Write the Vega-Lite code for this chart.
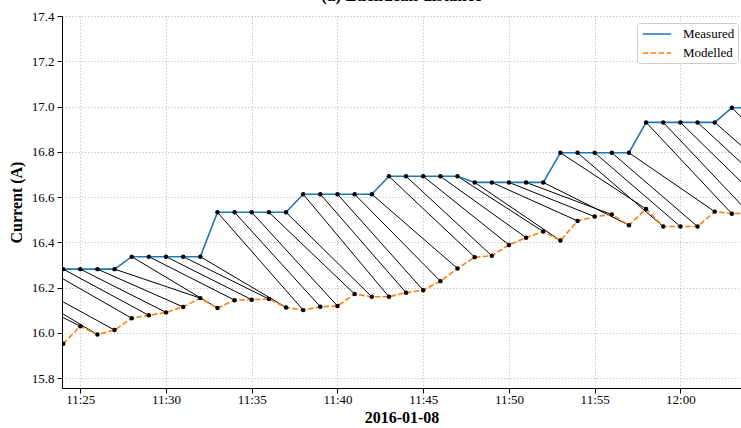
{
  "$schema": "https://vega.github.io/schema/vega-lite/v6.json",
  "width": 679,
  "height": 372,
  "autosize": {"type": "none"},
  "padding": {"left": 62, "top": 16, "right": 0, "bottom": 40},
  "background": "white",
  "title": {"text": "(a) Euclidean distance", "font": "Liberation Serif", "fontWeight": "bold", "fontSize": 17, "anchor": "middle", "baseline": "alphabetic", "offset": 2, "dy": 10, "color": "black"},
  "config": {
    "view": {"stroke": null},
    "axis": {"domainColor": "black", "domainWidth": 1, "tickColor": "black", "tickSize": 5, "tickWidth": 1, "labelFont": "Liberation Serif", "labelFontSize": 13, "labelColor": "black", "titleFont": "Liberation Serif", "titleFontSize": 16, "titleFontWeight": "bold", "titleColor": "black", "gridColor": "#b0b0b0", "gridDash": [1.2, 2], "gridWidth": 0.8}
  },
  "datasets": {
    "series": [
      {"time": "2016-01-08T11:18:00", "series": "Measured", "value": 16.22},
      {"time": "2016-01-08T11:19:00", "series": "Measured", "value": 16.22},
      {"time": "2016-01-08T11:20:00", "series": "Measured", "value": 16.22},
      {"time": "2016-01-08T11:21:00", "series": "Measured", "value": 16.22},
      {"time": "2016-01-08T11:22:00", "series": "Measured", "value": 16.22},
      {"time": "2016-01-08T11:23:00", "series": "Measured", "value": 16.282},
      {"time": "2016-01-08T11:24:00", "series": "Measured", "value": 16.282},
      {"time": "2016-01-08T11:25:00", "series": "Measured", "value": 16.282},
      {"time": "2016-01-08T11:26:00", "series": "Measured", "value": 16.282},
      {"time": "2016-01-08T11:27:00", "series": "Measured", "value": 16.282},
      {"time": "2016-01-08T11:28:00", "series": "Measured", "value": 16.337},
      {"time": "2016-01-08T11:29:00", "series": "Measured", "value": 16.337},
      {"time": "2016-01-08T11:30:00", "series": "Measured", "value": 16.337},
      {"time": "2016-01-08T11:31:00", "series": "Measured", "value": 16.337},
      {"time": "2016-01-08T11:32:00", "series": "Measured", "value": 16.337},
      {"time": "2016-01-08T11:33:00", "series": "Measured", "value": 16.533},
      {"time": "2016-01-08T11:34:00", "series": "Measured", "value": 16.533},
      {"time": "2016-01-08T11:35:00", "series": "Measured", "value": 16.533},
      {"time": "2016-01-08T11:36:00", "series": "Measured", "value": 16.533},
      {"time": "2016-01-08T11:37:00", "series": "Measured", "value": 16.533},
      {"time": "2016-01-08T11:38:00", "series": "Measured", "value": 16.613},
      {"time": "2016-01-08T11:39:00", "series": "Measured", "value": 16.613},
      {"time": "2016-01-08T11:40:00", "series": "Measured", "value": 16.613},
      {"time": "2016-01-08T11:41:00", "series": "Measured", "value": 16.613},
      {"time": "2016-01-08T11:42:00", "series": "Measured", "value": 16.613},
      {"time": "2016-01-08T11:43:00", "series": "Measured", "value": 16.692},
      {"time": "2016-01-08T11:44:00", "series": "Measured", "value": 16.692},
      {"time": "2016-01-08T11:45:00", "series": "Measured", "value": 16.692},
      {"time": "2016-01-08T11:46:00", "series": "Measured", "value": 16.692},
      {"time": "2016-01-08T11:47:00", "series": "Measured", "value": 16.692},
      {"time": "2016-01-08T11:48:00", "series": "Measured", "value": 16.665},
      {"time": "2016-01-08T11:49:00", "series": "Measured", "value": 16.665},
      {"time": "2016-01-08T11:50:00", "series": "Measured", "value": 16.665},
      {"time": "2016-01-08T11:51:00", "series": "Measured", "value": 16.665},
      {"time": "2016-01-08T11:52:00", "series": "Measured", "value": 16.665},
      {"time": "2016-01-08T11:53:00", "series": "Measured", "value": 16.796},
      {"time": "2016-01-08T11:54:00", "series": "Measured", "value": 16.796},
      {"time": "2016-01-08T11:55:00", "series": "Measured", "value": 16.796},
      {"time": "2016-01-08T11:56:00", "series": "Measured", "value": 16.796},
      {"time": "2016-01-08T11:57:00", "series": "Measured", "value": 16.796},
      {"time": "2016-01-08T11:58:00", "series": "Measured", "value": 16.93},
      {"time": "2016-01-08T11:59:00", "series": "Measured", "value": 16.93},
      {"time": "2016-01-08T12:00:00", "series": "Measured", "value": 16.93},
      {"time": "2016-01-08T12:01:00", "series": "Measured", "value": 16.93},
      {"time": "2016-01-08T12:02:00", "series": "Measured", "value": 16.93},
      {"time": "2016-01-08T12:03:00", "series": "Measured", "value": 16.995},
      {"time": "2016-01-08T12:04:00", "series": "Measured", "value": 16.995},
      {"time": "2016-01-08T11:24:00", "series": "Modelled", "value": 15.952},
      {"time": "2016-01-08T11:25:00", "series": "Modelled", "value": 16.03},
      {"time": "2016-01-08T11:26:00", "series": "Modelled", "value": 15.993},
      {"time": "2016-01-08T11:27:00", "series": "Modelled", "value": 16.013},
      {"time": "2016-01-08T11:28:00", "series": "Modelled", "value": 16.065},
      {"time": "2016-01-08T11:29:00", "series": "Modelled", "value": 16.078},
      {"time": "2016-01-08T11:30:00", "series": "Modelled", "value": 16.091},
      {"time": "2016-01-08T11:31:00", "series": "Modelled", "value": 16.115},
      {"time": "2016-01-08T11:32:00", "series": "Modelled", "value": 16.154},
      {"time": "2016-01-08T11:33:00", "series": "Modelled", "value": 16.11},
      {"time": "2016-01-08T11:34:00", "series": "Modelled", "value": 16.145},
      {"time": "2016-01-08T11:35:00", "series": "Modelled", "value": 16.147},
      {"time": "2016-01-08T11:36:00", "series": "Modelled", "value": 16.15},
      {"time": "2016-01-08T11:37:00", "series": "Modelled", "value": 16.113},
      {"time": "2016-01-08T11:38:00", "series": "Modelled", "value": 16.101},
      {"time": "2016-01-08T11:39:00", "series": "Modelled", "value": 16.116},
      {"time": "2016-01-08T11:40:00", "series": "Modelled", "value": 16.119},
      {"time": "2016-01-08T11:41:00", "series": "Modelled", "value": 16.172},
      {"time": "2016-01-08T11:42:00", "series": "Modelled", "value": 16.16},
      {"time": "2016-01-08T11:43:00", "series": "Modelled", "value": 16.16},
      {"time": "2016-01-08T11:44:00", "series": "Modelled", "value": 16.178},
      {"time": "2016-01-08T11:45:00", "series": "Modelled", "value": 16.189},
      {"time": "2016-01-08T11:46:00", "series": "Modelled", "value": 16.229},
      {"time": "2016-01-08T11:47:00", "series": "Modelled", "value": 16.285},
      {"time": "2016-01-08T11:48:00", "series": "Modelled", "value": 16.335},
      {"time": "2016-01-08T11:49:00", "series": "Modelled", "value": 16.341},
      {"time": "2016-01-08T11:50:00", "series": "Modelled", "value": 16.389},
      {"time": "2016-01-08T11:51:00", "series": "Modelled", "value": 16.421},
      {"time": "2016-01-08T11:52:00", "series": "Modelled", "value": 16.448},
      {"time": "2016-01-08T11:53:00", "series": "Modelled", "value": 16.408},
      {"time": "2016-01-08T11:54:00", "series": "Modelled", "value": 16.495},
      {"time": "2016-01-08T11:55:00", "series": "Modelled", "value": 16.514},
      {"time": "2016-01-08T11:56:00", "series": "Modelled", "value": 16.523},
      {"time": "2016-01-08T11:57:00", "series": "Modelled", "value": 16.476},
      {"time": "2016-01-08T11:58:00", "series": "Modelled", "value": 16.548},
      {"time": "2016-01-08T11:59:00", "series": "Modelled", "value": 16.47},
      {"time": "2016-01-08T12:00:00", "series": "Modelled", "value": 16.47},
      {"time": "2016-01-08T12:01:00", "series": "Modelled", "value": 16.47},
      {"time": "2016-01-08T12:02:00", "series": "Modelled", "value": 16.536},
      {"time": "2016-01-08T12:03:00", "series": "Modelled", "value": 16.527},
      {"time": "2016-01-08T12:04:00", "series": "Modelled", "value": 16.53},
      {"time": "2016-01-08T12:05:00", "series": "Modelled", "value": 16.56},
      {"time": "2016-01-08T12:06:00", "series": "Modelled", "value": 16.58},
      {"time": "2016-01-08T12:07:00", "series": "Modelled", "value": 16.6},
      {"time": "2016-01-08T12:08:00", "series": "Modelled", "value": 16.62}
    ],
    "pairs": [
      {"mt": "2016-01-08T11:19:00", "mv": 16.22, "pt": "2016-01-08T11:24:00", "pv": 15.952},
      {"mt": "2016-01-08T11:20:00", "mv": 16.22, "pt": "2016-01-08T11:25:00", "pv": 16.03},
      {"mt": "2016-01-08T11:21:00", "mv": 16.22, "pt": "2016-01-08T11:26:00", "pv": 15.993},
      {"mt": "2016-01-08T11:22:00", "mv": 16.22, "pt": "2016-01-08T11:27:00", "pv": 16.013},
      {"mt": "2016-01-08T11:23:00", "mv": 16.282, "pt": "2016-01-08T11:28:00", "pv": 16.065},
      {"mt": "2016-01-08T11:24:00", "mv": 16.282, "pt": "2016-01-08T11:29:00", "pv": 16.078},
      {"mt": "2016-01-08T11:25:00", "mv": 16.282, "pt": "2016-01-08T11:30:00", "pv": 16.091},
      {"mt": "2016-01-08T11:26:00", "mv": 16.282, "pt": "2016-01-08T11:31:00", "pv": 16.115},
      {"mt": "2016-01-08T11:27:00", "mv": 16.282, "pt": "2016-01-08T11:32:00", "pv": 16.154},
      {"mt": "2016-01-08T11:28:00", "mv": 16.337, "pt": "2016-01-08T11:33:00", "pv": 16.11},
      {"mt": "2016-01-08T11:29:00", "mv": 16.337, "pt": "2016-01-08T11:34:00", "pv": 16.145},
      {"mt": "2016-01-08T11:30:00", "mv": 16.337, "pt": "2016-01-08T11:35:00", "pv": 16.147},
      {"mt": "2016-01-08T11:31:00", "mv": 16.337, "pt": "2016-01-08T11:36:00", "pv": 16.15},
      {"mt": "2016-01-08T11:32:00", "mv": 16.337, "pt": "2016-01-08T11:37:00", "pv": 16.113},
      {"mt": "2016-01-08T11:33:00", "mv": 16.533, "pt": "2016-01-08T11:38:00", "pv": 16.101},
      {"mt": "2016-01-08T11:34:00", "mv": 16.533, "pt": "2016-01-08T11:39:00", "pv": 16.116},
      {"mt": "2016-01-08T11:35:00", "mv": 16.533, "pt": "2016-01-08T11:40:00", "pv": 16.119},
      {"mt": "2016-01-08T11:36:00", "mv": 16.533, "pt": "2016-01-08T11:41:00", "pv": 16.172},
      {"mt": "2016-01-08T11:37:00", "mv": 16.533, "pt": "2016-01-08T11:42:00", "pv": 16.16},
      {"mt": "2016-01-08T11:38:00", "mv": 16.613, "pt": "2016-01-08T11:43:00", "pv": 16.16},
      {"mt": "2016-01-08T11:39:00", "mv": 16.613, "pt": "2016-01-08T11:44:00", "pv": 16.178},
      {"mt": "2016-01-08T11:40:00", "mv": 16.613, "pt": "2016-01-08T11:45:00", "pv": 16.189},
      {"mt": "2016-01-08T11:41:00", "mv": 16.613, "pt": "2016-01-08T11:46:00", "pv": 16.229},
      {"mt": "2016-01-08T11:42:00", "mv": 16.613, "pt": "2016-01-08T11:47:00", "pv": 16.285},
      {"mt": "2016-01-08T11:43:00", "mv": 16.692, "pt": "2016-01-08T11:48:00", "pv": 16.335},
      {"mt": "2016-01-08T11:44:00", "mv": 16.692, "pt": "2016-01-08T11:49:00", "pv": 16.341},
      {"mt": "2016-01-08T11:45:00", "mv": 16.692, "pt": "2016-01-08T11:50:00", "pv": 16.389},
      {"mt": "2016-01-08T11:46:00", "mv": 16.692, "pt": "2016-01-08T11:51:00", "pv": 16.421},
      {"mt": "2016-01-08T11:47:00", "mv": 16.692, "pt": "2016-01-08T11:52:00", "pv": 16.448},
      {"mt": "2016-01-08T11:48:00", "mv": 16.665, "pt": "2016-01-08T11:53:00", "pv": 16.408},
      {"mt": "2016-01-08T11:49:00", "mv": 16.665, "pt": "2016-01-08T11:54:00", "pv": 16.495},
      {"mt": "2016-01-08T11:50:00", "mv": 16.665, "pt": "2016-01-08T11:55:00", "pv": 16.514},
      {"mt": "2016-01-08T11:51:00", "mv": 16.665, "pt": "2016-01-08T11:56:00", "pv": 16.523},
      {"mt": "2016-01-08T11:52:00", "mv": 16.665, "pt": "2016-01-08T11:57:00", "pv": 16.476},
      {"mt": "2016-01-08T11:53:00", "mv": 16.796, "pt": "2016-01-08T11:58:00", "pv": 16.548},
      {"mt": "2016-01-08T11:54:00", "mv": 16.796, "pt": "2016-01-08T11:59:00", "pv": 16.47},
      {"mt": "2016-01-08T11:55:00", "mv": 16.796, "pt": "2016-01-08T12:00:00", "pv": 16.47},
      {"mt": "2016-01-08T11:56:00", "mv": 16.796, "pt": "2016-01-08T12:01:00", "pv": 16.47},
      {"mt": "2016-01-08T11:57:00", "mv": 16.796, "pt": "2016-01-08T12:02:00", "pv": 16.536},
      {"mt": "2016-01-08T11:58:00", "mv": 16.93, "pt": "2016-01-08T12:03:00", "pv": 16.527},
      {"mt": "2016-01-08T11:59:00", "mv": 16.93, "pt": "2016-01-08T12:04:00", "pv": 16.53},
      {"mt": "2016-01-08T12:00:00", "mv": 16.93, "pt": "2016-01-08T12:05:00", "pv": 16.56},
      {"mt": "2016-01-08T12:01:00", "mv": 16.93, "pt": "2016-01-08T12:06:00", "pv": 16.58},
      {"mt": "2016-01-08T12:02:00", "mv": 16.93, "pt": "2016-01-08T12:07:00", "pv": 16.6},
      {"mt": "2016-01-08T12:03:00", "mv": 16.995, "pt": "2016-01-08T12:08:00", "pv": 16.62}
    ]
  },
  "layer": [
    {
      "data": {"name": "pairs"},
      "mark": {"type": "rule", "color": "black", "strokeWidth": 1, "clip": true},
      "encoding": {
        "x": {"field": "mt", "type": "temporal",
          "scale": {"domain": [{"year": 2016, "month": 1, "date": 8, "hours": 11, "minutes": 23, "seconds": 56}, {"year": 2016, "month": 1, "date": 8, "hours": 12, "minutes": 3, "seconds": 32}]},
          "axis": {"title": "2016-01-08", "format": "%H:%M", "labelPadding": 0.5, "titlePadding": 3, "grid": true,
            "values": [
              {"year": 2016, "month": 1, "date": 8, "hours": 11, "minutes": 25},
              {"year": 2016, "month": 1, "date": 8, "hours": 11, "minutes": 30},
              {"year": 2016, "month": 1, "date": 8, "hours": 11, "minutes": 35},
              {"year": 2016, "month": 1, "date": 8, "hours": 11, "minutes": 40},
              {"year": 2016, "month": 1, "date": 8, "hours": 11, "minutes": 45},
              {"year": 2016, "month": 1, "date": 8, "hours": 11, "minutes": 50},
              {"year": 2016, "month": 1, "date": 8, "hours": 11, "minutes": 55},
              {"year": 2016, "month": 1, "date": 8, "hours": 12, "minutes": 0}
            ]}},
        "y": {"field": "mv", "type": "quantitative",
          "scale": {"domain": [15.757, 17.4], "nice": false, "zero": false},
          "axis": {"title": "Current (A)", "values": [15.8, 16.0, 16.2, 16.4, 16.6, 16.8, 17.0, 17.2, 17.4], "format": ".1f", "labelPadding": 3, "titlePadding": 7, "grid": true}},
        "x2": {"field": "pt"},
        "y2": {"field": "pv"}
      }
    },
    {
      "data": {"name": "series"},
      "transform": [{"filter": "datum.series === 'Measured'"}],
      "mark": {"type": "line", "strokeWidth": 1.6, "clip": true},
      "encoding": {
        "x": {"field": "time", "type": "temporal"},
        "y": {"field": "value", "type": "quantitative"},
        "color": {"field": "series", "type": "nominal",
          "scale": {"domain": ["Measured", "Modelled"], "range": ["#1f77b4", "#ff7f0e"]},
          "legend": {"title": null, "orient": "none", "legendX": 575, "legendY": 7, "fillColor": "rgba(255,255,255,0.8)", "strokeColor": "#cccccc", "cornerRadius": 3, "padding": 3, "symbolType": "M-0.74,0H3.31", "symbolSize": 196, "symbolStrokeWidth": 1.5, "labelFont": "Liberation Serif", "labelFontSize": 13, "labelColor": "black", "labelOffset": 27, "rowPadding": 4,
            "encode": {"symbols": {"update": {"strokeDash": {"signal": "datum.value === 'Modelled' ? [5.5, 2.4] : [1, 0]"}}}}}}
      }
    },
    {
      "data": {"name": "series"},
      "transform": [{"filter": "datum.series === 'Modelled'"}],
      "mark": {"type": "line", "strokeWidth": 1.6, "clip": true, "color": "#ff7f0e", "strokeDash": [5.5, 2.4]},
      "encoding": {
        "x": {"field": "time", "type": "temporal"},
        "y": {"field": "value", "type": "quantitative"}
      }
    },
    {
      "data": {"name": "series"},
      "mark": {"type": "point", "filled": true, "color": "black", "size": 20, "opacity": 1, "clip": true},
      "encoding": {
        "x": {"field": "time", "type": "temporal"},
        "y": {"field": "value", "type": "quantitative"}
      }
    },
    {
      "mark": {"type": "rule", "color": "black", "strokeWidth": 1},
      "encoding": {"y": {"datum": 17.4, "type": "quantitative"}}
    }
  ]
}
